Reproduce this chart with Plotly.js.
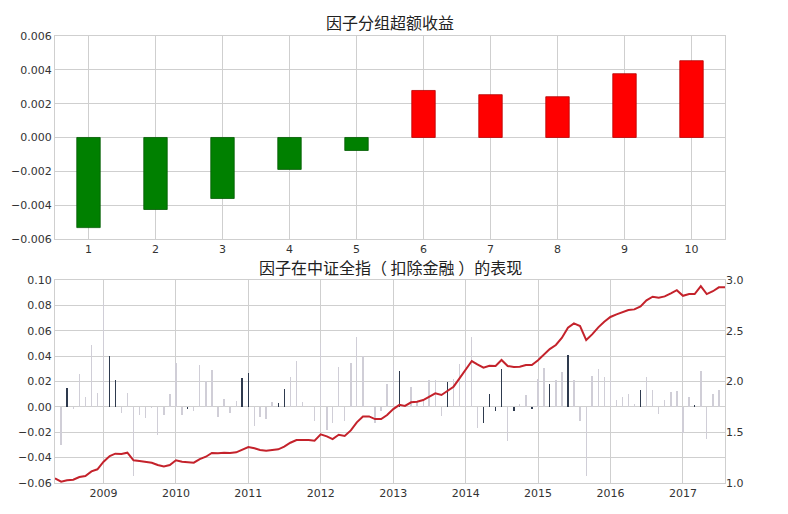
<!DOCTYPE html>
<html>
<head>
<meta charset="utf-8">
<script src="https://cdn.plot.ly/plotly-3.0.1.min.js"></script>
<style>
  html, body { margin: 0; padding: 0; background: #fff; }
  #chart { width: 788px; height: 514px; }
</style>
</head>
<body>
<div id="chart"></div>
<script>
'use strict'

// top panel: excess return per factor group

const groups = [1, 2, 3, 4, 5, 6, 7, 8, 9, 10]
const groupExcess = [-0.00533, -0.00426, -0.00361, -0.00189, -0.00077, 0.00278, 0.00253, 0.00241, 0.00377, 0.00454]

// bottom panel: monthly return (bars, 2008-06 .. 2017-07) and cumulative value (line, 2008-05 .. 2017-08)

const barStart = '2008-06'
const monthlyRet = [
  -0.030, 0.015, -0.002, 0.026, 0.008, 0.049, 0.011,
  0.082, 0.040, 0.0215, -0.0045, 0.011, -0.0547, -0.006, -0.0087, -0.001, -0.022, -0.006, 0.0098,
  0.035, -0.006, -0.002, -0.003, 0.033, 0.0207, 0.0288, -0.008, 0.006, -0.005, 0.005, 0.023,
  0.027, -0.015, -0.008, -0.0097, 0.004, 0.003, 0.0144, 0.0236, 0.0365, 0.004, 0.0005, -0.0115,
  0.050, -0.0184, -0.0125, 0.0314, -0.011, 0.035, 0.055, 0.040, 0.001, -0.013, -0.003, 0.018,
  0.033, 0.028, 0.0008, 0.0157, 0.004, 0.005, 0.021, 0.021, -0.0075, 0.020, 0.022, 0.0335,
  0.0425, 0.0555, -0.017, -0.013, 0.0105, -0.003, 0.030, -0.027, -0.003, 0.0026, 0.009, -0.002,
  0.022, 0.031, 0.018, 0.021, 0.0275, 0.041, 0.0215, -0.0108, -0.0546, 0.024, 0.030, 0.0233,
  0.021, 0.0057, 0.0076, 0.0105, 0.0023, 0.013, 0.0236, 0.0136, -0.0053, 0.0052, 0.0118, 0.0128,
  -0.0205, 0.0076, 0.0018, 0.028, -0.025, 0.0105, 0.0136
]
const darkMonths = ['2008-07', '2009-02', '2009-03', '2010-03', '2010-12', '2011-01', '2011-06', '2011-07',
  '2013-02', '2013-10', '2014-04', '2014-05', '2014-06', '2014-07', '2014-09', '2014-12',
  '2015-03', '2015-06', '2016-06', '2017-03']

const navStart = '2008-05'
const cumNav = [
  1.046, 1.013, 1.026, 1.033, 1.059, 1.069, 1.115, 1.135,
  1.21, 1.266, 1.289, 1.286, 1.299, 1.224, 1.217, 1.207, 1.2, 1.177, 1.164, 1.177,
  1.224, 1.21, 1.203, 1.2, 1.236, 1.259, 1.296, 1.293, 1.299, 1.296, 1.302, 1.325,
  1.355, 1.342, 1.325, 1.318, 1.325, 1.332, 1.358, 1.397, 1.424, 1.427, 1.424, 1.417,
  1.48, 1.459, 1.432, 1.476, 1.464, 1.518, 1.598, 1.656, 1.656, 1.63, 1.63, 1.67,
  1.728, 1.77, 1.76, 1.795, 1.80, 1.818, 1.85, 1.884, 1.867, 1.906, 1.949, 2.031,
  2.113, 2.202, 2.169, 2.136, 2.156, 2.153, 2.212, 2.153, 2.143, 2.146, 2.163, 2.163,
  2.21, 2.268, 2.32, 2.36, 2.43, 2.53, 2.573, 2.547, 2.409, 2.465, 2.534, 2.589,
  2.636, 2.662, 2.682, 2.704, 2.711, 2.74, 2.80, 2.836, 2.826, 2.839, 2.869, 2.90,
  2.845, 2.862, 2.862, 2.941, 2.862, 2.89, 2.928, 2.928
]

///////////////////////////////////////////////////////

const monthSeq = (start, n) => {
  let [y, m] = start.split('-').map(Number)
  let out = []
  for (let i = 0; i < n; i++) {
    out.push(`${y}-${String(m).padStart(2, '0')}`)
    m++
    if (m > 12) { m = 1; y++ }
  }
  return out
}

const barMonths = monthSeq(barStart, monthlyRet.length)
const navMonths = monthSeq(navStart, cumNav.length)

const gridColor = '#cfcfcf'
const tickFont = { family: 'DejaVu Sans, sans-serif', size: 11, color: '#333' }
const titleFont = { family: 'Noto Sans CJK SC, sans-serif', size: 16, color: '#222' }

let trace_groups = {
  type: 'bar',
  x: groups,
  y: groupExcess,
  width: 0.35,
  marker: {
    color: groupExcess.map(v => v < 0 ? '#008000' : '#ff0000'),
    line: { color: groupExcess.map(v => v < 0 ? '#005a00' : '#b80000'), width: 0.8 }
  },
  xaxis: 'x',
  yaxis: 'y',
  hoverinfo: 'none'
}

let trace_monthly = {
  type: 'bar',
  x: barMonths.map(d => d + '-01'),
  y: monthlyRet,
  width: 7 * 86400000,
  marker: {
    color: barMonths.map(d => darkMonths.includes(d) ? '#2e3a4e' : '#d0ced7')
  },
  xaxis: 'x2',
  yaxis: 'y2',
  hoverinfo: 'none'
}

let trace_nav = {
  type: 'scatter',
  mode: 'lines',
  x: navMonths.map(d => d + '-01'),
  y: cumNav,
  line: { color: '#c4222b', width: 2 },
  xaxis: 'x2',
  yaxis: 'y3',
  hoverinfo: 'none'
}

let axisBase = {
  showline: true,
  mirror: true,
  linecolor: gridColor,
  linewidth: 1,
  gridcolor: gridColor,
  gridwidth: 1,
  zeroline: false,
  ticks: '',
  tickfont: tickFont
}

let layout = {
  width: 788,
  height: 514,
  margin: { l: 55, r: 63, t: 36, b: 31 },
  paper_bgcolor: '#fff',
  plot_bgcolor: '#fff',
  showlegend: false,
  bargap: 0,
  xaxis: Object.assign({}, axisBase, {
    domain: [0, 1],
    anchor: 'y',
    range: [0.5, 10.5],
    tickmode: 'array',
    tickvals: groups
  }),
  yaxis: Object.assign({}, axisBase, {
    domain: [0.546, 1],
    anchor: 'x',
    range: [-0.006, 0.006],
    dtick: 0.002,
    tickformat: '.3f'
  }),
  xaxis2: Object.assign({}, axisBase, {
    domain: [0, 1],
    anchor: 'y2',
    type: 'date',
    range: ['2008-05-01', '2017-08-01'],
    tick0: '2009-01-01',
    dtick: 'M12',
    tickformat: '%Y'
  }),
  yaxis2: Object.assign({}, axisBase, {
    domain: [0, 0.454],
    anchor: 'x2',
    range: [-0.06, 0.10],
    dtick: 0.02,
    tickformat: '.2f'
  }),
  yaxis3: {
    overlaying: 'y2',
    side: 'right',
    anchor: 'x2',
    range: [1.0, 3.0],
    dtick: 0.5,
    tickformat: '.1f',
    showgrid: false,
    zeroline: false,
    showline: false,
    ticks: '',
    tickfont: tickFont
  },
  annotations: [
    {
      text: '因子分组超额收益',
      xref: 'paper', yref: 'paper',
      x: 0.5, y: 1, xanchor: 'center', yanchor: 'bottom', yshift: 0,
      showarrow: false, font: titleFont
    },
    {
      text: '因子在中证全指（ 扣除金融 ）的表现',
      xref: 'paper', yref: 'paper',
      x: 0.5, y: 0.454, xanchor: 'center', yanchor: 'bottom', yshift: -1,
      showarrow: false, font: titleFont
    }
  ]
}

Plotly.newPlot('chart', [trace_groups, trace_monthly, trace_nav], layout, { displayModeBar: false, staticPlot: true })
</script>
</body>
</html>
